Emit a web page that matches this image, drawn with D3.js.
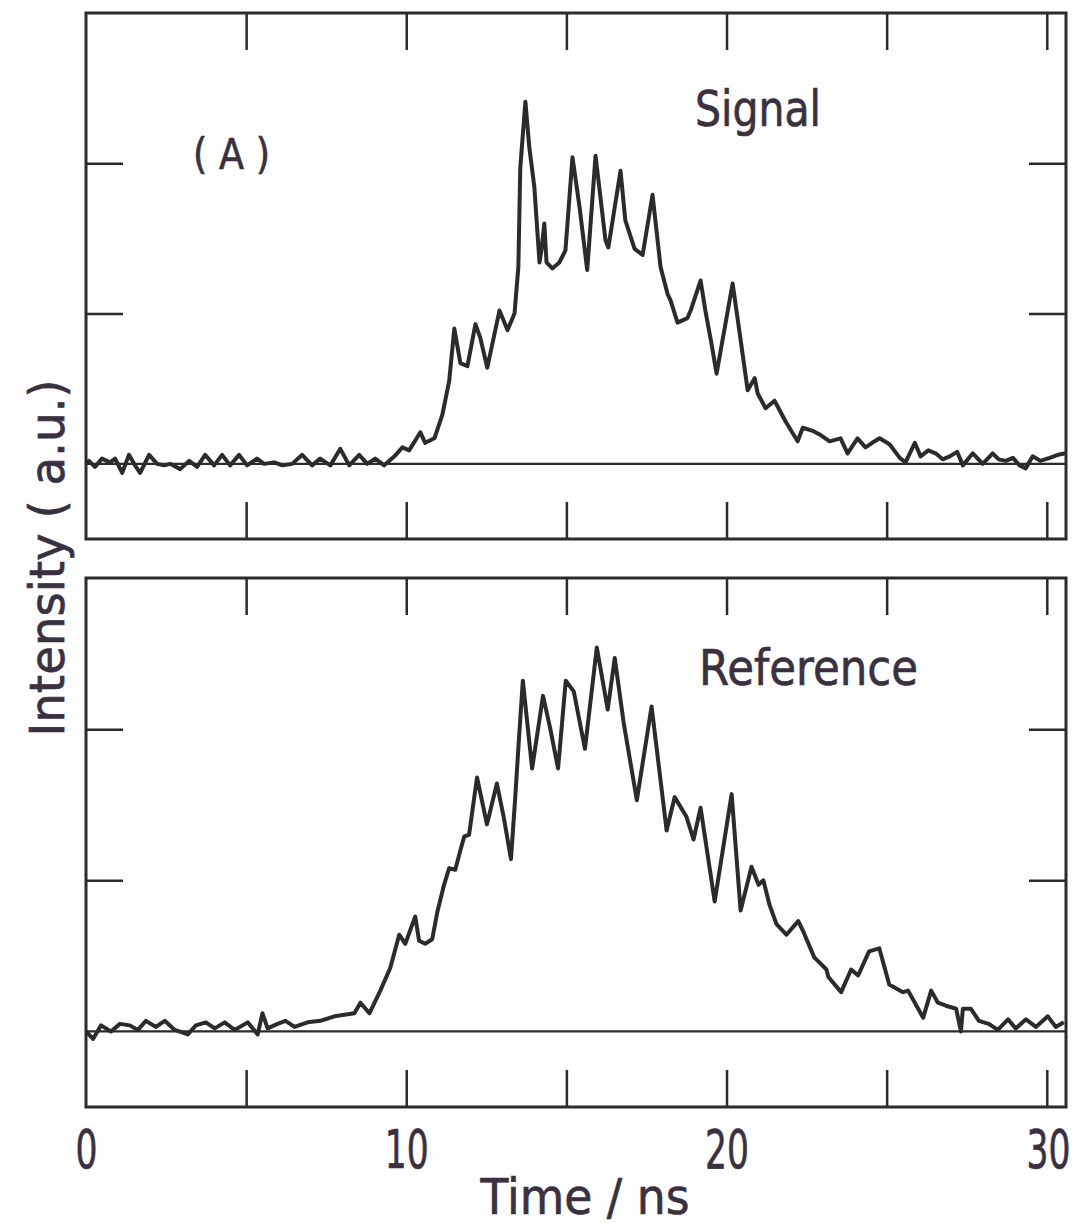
<!DOCTYPE html>
<html>
<head>
<meta charset="utf-8">
<script src="https://cdn.jsdelivr.net/npm/d3@7"></script>
<style>
  html, body { margin: 0; padding: 0; background: #fefefe; }
  svg { display: block; }
</style>
</head>
<body>
<svg id="chart" width="1075" height="1227"></svg>
<script>
// time axis (ns) and intensity axis (a.u.)
const timeTicks = [5, 10, 15, 20, 25, 30];
const timeLabels = [0, 10, 20, 30];
const intensityTicks = [1, 2];

// Signal trace, [time ns, intensity]
const signalTrace = [
  [0.0, 0.0], [0.09, 0.02], [0.28, -0.02], [0.5, 0.035], [0.75, 0.01], [0.91, 0.035],
  [1.13, -0.06], [1.34, 0.06], [1.53, -0.01], [1.69, -0.06], [1.97, 0.06], [2.22, 0.0],
  [2.44, -0.01], [2.63, 0.0], [2.94, -0.035], [3.22, 0.02], [3.47, -0.02], [3.72, 0.06],
  [4.0, -0.01], [4.25, 0.06], [4.5, -0.01], [4.78, 0.06], [5.03, -0.01], [5.34, 0.035],
  [5.56, 0.0], [5.88, 0.01], [6.13, -0.01], [6.44, 0.0], [6.75, 0.06], [7.06, -0.01],
  [7.31, 0.035], [7.63, -0.01], [7.94, 0.1], [8.22, -0.01], [8.53, 0.06], [8.78, 0.0],
  [9.03, 0.035], [9.31, -0.01], [9.63, 0.05], [9.88, 0.11], [10.09, 0.09], [10.44, 0.21],
  [10.59, 0.14], [10.88, 0.17], [11.13, 0.33], [11.34, 0.55], [11.5, 0.9], [11.69, 0.67],
  [11.91, 0.65], [12.16, 0.93], [12.31, 0.84], [12.53, 0.64], [12.91, 1.02], [13.16, 0.89],
  [13.38, 1.0], [13.5, 1.31], [13.56, 1.97], [13.72, 2.41], [13.84, 2.11], [14.0, 1.84],
  [14.16, 1.34], [14.22, 1.42], [14.31, 1.6], [14.38, 1.34], [14.56, 1.3], [14.78, 1.34],
  [14.97, 1.42], [15.19, 2.04], [15.41, 1.71], [15.65, 1.29], [15.91, 2.05], [16.22, 1.49],
  [16.31, 1.44], [16.69, 1.95], [16.84, 1.62], [17.13, 1.43], [17.38, 1.39], [17.69, 1.79],
  [17.94, 1.31], [18.16, 1.13], [18.25, 1.09], [18.47, 0.94], [18.78, 0.97], [18.88, 1.02],
  [19.19, 1.22], [19.34, 1.02], [19.53, 0.8], [19.69, 0.6], [20.19, 1.2], [20.41, 0.87],
  [20.66, 0.49], [20.88, 0.57], [20.97, 0.47], [21.22, 0.37], [21.5, 0.42], [21.85, 0.28],
  [22.22, 0.15], [22.38, 0.24], [22.69, 0.22], [22.95, 0.19], [23.22, 0.15], [23.56, 0.17],
  [23.78, 0.07], [24.09, 0.17], [24.34, 0.11], [24.55, 0.14], [24.78, 0.17], [25.09, 0.13],
  [25.41, 0.04], [25.59, 0.01], [25.88, 0.14], [26.06, 0.05], [26.3, 0.09], [26.53, 0.07],
  [26.75, 0.03], [26.97, 0.05], [27.2, 0.08], [27.38, -0.01], [27.69, 0.07], [28.0, 0.0],
  [28.31, 0.07], [28.5, 0.03], [28.72, 0.02], [28.94, 0.04], [29.15, -0.01], [29.34, -0.03],
  [29.56, 0.05], [29.8, 0.02], [30.09, 0.04], [30.35, 0.06], [30.6, 0.07]
];

// Reference trace, [time ns, intensity]
const referenceTrace = [
  [0.0, 0.0], [0.22, -0.05], [0.47, 0.04], [0.78, 0.0], [1.06, 0.05], [1.37, 0.04],
  [1.62, 0.01], [1.87, 0.07], [2.18, 0.03], [2.46, 0.07], [2.77, 0.01], [3.18, -0.02],
  [3.43, 0.04], [3.74, 0.06], [4.02, 0.02], [4.33, 0.06], [4.64, 0.01], [5.05, 0.06],
  [5.36, -0.02], [5.51, 0.12], [5.67, 0.02], [5.98, 0.05], [6.23, 0.07], [6.51, 0.03],
  [6.92, 0.06], [7.32, 0.07], [7.76, 0.1], [8.07, 0.11], [8.38, 0.12], [8.57, 0.19],
  [8.85, 0.12], [9.19, 0.27], [9.5, 0.42], [9.78, 0.64], [9.97, 0.58], [10.28, 0.76],
  [10.4, 0.6], [10.59, 0.58], [10.81, 0.61], [10.97, 0.79], [11.18, 0.97], [11.34, 1.08],
  [11.53, 1.07], [11.68, 1.19], [11.81, 1.29], [11.96, 1.3], [12.21, 1.68], [12.52, 1.37],
  [12.83, 1.64], [13.05, 1.41], [13.27, 1.14], [13.4, 1.54], [13.52, 1.94], [13.64, 2.32],
  [13.93, 1.74], [14.27, 2.22], [14.49, 2.01], [14.74, 1.74], [14.98, 2.32], [15.23, 2.25],
  [15.58, 1.87], [15.95, 2.54], [16.29, 2.13], [16.51, 2.47], [16.79, 2.04], [17.2, 1.53],
  [17.66, 2.15], [18.13, 1.33], [18.38, 1.55], [18.75, 1.42], [18.97, 1.27], [19.19, 1.48],
  [19.63, 0.86], [20.16, 1.57], [20.44, 0.8], [20.78, 1.09], [21.0, 0.97], [21.15, 1.0],
  [21.34, 0.84], [21.56, 0.71], [21.87, 0.64], [22.24, 0.73], [22.4, 0.66], [22.74, 0.49],
  [23.12, 0.41], [23.18, 0.36], [23.58, 0.26], [23.89, 0.41], [24.11, 0.37], [24.45, 0.53],
  [24.77, 0.55], [25.08, 0.31], [25.51, 0.26], [25.67, 0.27], [26.14, 0.09], [26.39, 0.27],
  [26.6, 0.19], [26.85, 0.17], [27.17, 0.15], [27.32, 0.0], [27.38, 0.15], [27.63, 0.15],
  [27.88, 0.07], [28.19, 0.05], [28.47, 0.01], [28.79, 0.08], [29.03, 0.02], [29.35, 0.08],
  [29.66, 0.03], [30.03, 0.1], [30.28, 0.03], [30.53, 0.06]
];

const ink = "#2b2a2c";
const textInk = "#3a3140";
const font = "'DejaVu Sans', sans-serif";
const tickLen = 37;

const svg = d3.select("#chart");
svg.append("rect").attr("width", 1075).attr("height", 1227).attr("fill", "#fefefe");

const x = d3.scaleLinear().domain([0, 30.6]).range([86, 1066]);

const panels = [
  { id: "signal", data: signalTrace, top: 13, bottom: 539, name: "Signal", nx: 695, ny: 126, nw: 126 },
  { id: "reference", data: referenceTrace, top: 578, bottom: 1107, name: "Reference", nx: 699, ny: 685, nw: 219 }
];

function label(sel) {
  return sel.attr("font-family", font)
    .attr("fill", textInk)
    .attr("stroke", textInk).attr("stroke-width", 0.7)
    .attr("lengthAdjust", "spacingAndGlyphs");
}

panels.forEach(p => {
  const y = d3.scaleLinear().domain([-0.5, 3]).range([p.bottom, p.top]);
  const g = svg.append("g");

  g.append("clipPath").attr("id", "clip-" + p.id)
    .append("rect")
    .attr("x", x.range()[0]).attr("y", p.top)
    .attr("width", x.range()[1] - x.range()[0]).attr("height", p.bottom - p.top);

  // inward ticks on all four sides
  const sides = [
    [d3.axisTop(x).tickValues(timeTicks), `translate(0,${p.top})`],
    [d3.axisBottom(x).tickValues(timeTicks), `translate(0,${p.bottom})`],
    [d3.axisLeft(y).tickValues(intensityTicks), `translate(${x.range()[0]},0)`],
    [d3.axisRight(y).tickValues(intensityTicks), `translate(${x.range()[1]},0)`]
  ];
  sides.forEach(([axis, tr]) => {
    const a = g.append("g").attr("transform", tr)
      .call(axis.tickSize(-tickLen).tickFormat(""));
    a.select(".domain").remove();
    a.selectAll(".tick line").attr("stroke", ink).attr("stroke-width", 2.5);
  });

  // zero line
  g.append("line")
    .attr("x1", x(0)).attr("x2", x(30.6))
    .attr("y1", y(0)).attr("y2", y(0))
    .attr("stroke", ink).attr("stroke-width", 2.2);

  const line = d3.line().x(d => x(d[0])).y(d => y(d[1]));
  g.append("path")
    .datum(p.data)
    .attr("clip-path", `url(#clip-${p.id})`)
    .attr("d", line)
    .attr("fill", "none")
    .attr("stroke", ink)
    .attr("stroke-width", 4)
    .attr("stroke-linejoin", "round");

  g.append("rect")
    .attr("x", x.range()[0]).attr("y", p.top)
    .attr("width", x.range()[1] - x.range()[0]).attr("height", p.bottom - p.top)
    .attr("fill", "none").attr("stroke", ink).attr("stroke-width", 3);

  g.append("text")
    .attr("x", p.nx).attr("y", p.ny)
    .attr("font-size", 50)
    .attr("textLength", p.nw)
    .call(label)
    .text(p.name);

  if (p.id === "signal") {
    g.append("text")
      .attr("x", 193).attr("y", 169)
      .attr("font-size", 42)
      .attr("textLength", 77)
      .call(label)
      .text("( A )");
  }

  if (p.id === "reference") {
    // narrow plotter-style digits: squeeze horizontally around each tick
    const squeeze = 0.64;
    const ax = svg.append("g").attr("transform", `translate(0,${p.bottom})`)
      .call(d3.axisBottom(x).tickValues(timeLabels).tickSize(0).tickPadding(0));
    ax.select(".domain").remove();
    ax.selectAll("text")
      .attr("y", 61)
      .attr("dy", null)
      .attr("font-family", font)
      .attr("font-size", 54)
      .attr("fill", textInk)
      .attr("stroke", textInk).attr("stroke-width", 0.7)
      .attr("transform", `scale(${squeeze},1)`)
      .attr("text-anchor", d => d === 30 ? "end" : "middle")
      .attr("x", d => d === 30 ? (1070 - x(30)) / squeeze : 0);
  }
});

svg.append("text")
  .attr("x", 585).attr("y", 1214)
  .attr("text-anchor", "middle")
  .attr("font-size", 50)
  .attr("textLength", 209)
  .call(label)
  .text("Time / ns");

svg.append("text")
  .attr("transform", "translate(64,558) rotate(-90)")
  .attr("text-anchor", "middle")
  .attr("font-size", 48)
  .attr("textLength", 357)
  .call(label)
  .text("Intensity ( a.u.)");
</script>
</body>
</html>
